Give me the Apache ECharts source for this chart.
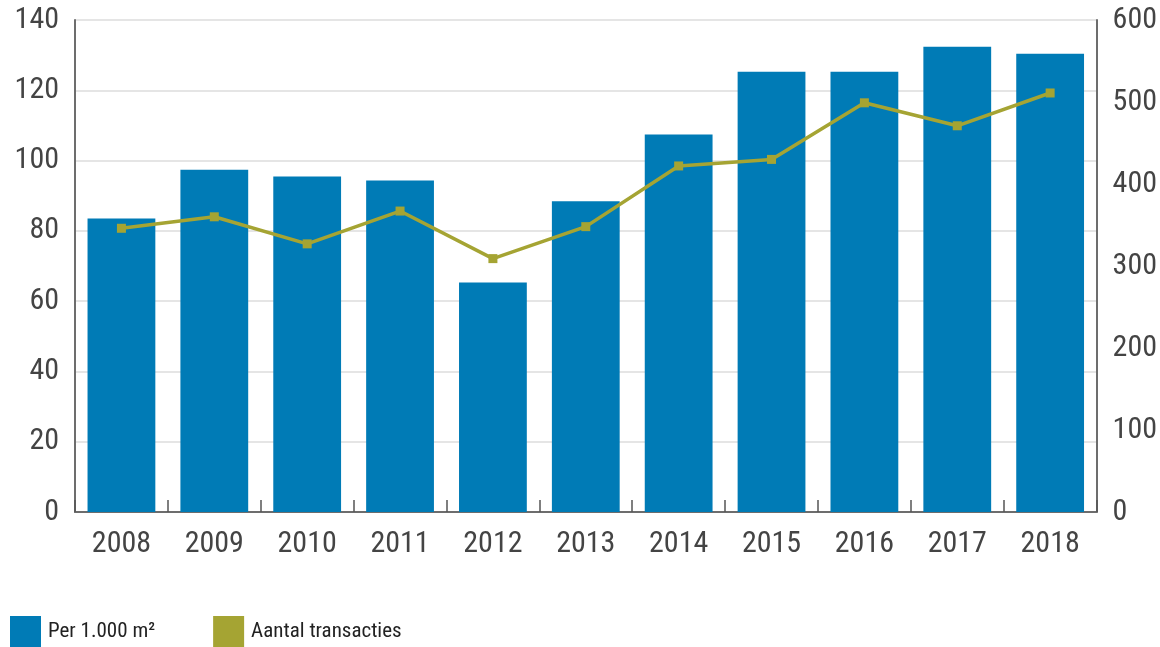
<!DOCTYPE html>
<html><head><meta charset="utf-8">
<script src="https://cdn.jsdelivr.net/npm/echarts@6/dist/echarts.min.js"></script>
<style>html,body{margin:0;padding:0;background:#fff}#c{width:1160px;height:647px}</style>
</head><body><div id="c"></div>
<script>
const categories = ['2008','2009','2010','2011','2012','2013','2014','2015','2016','2017','2018'];
const perM2 = [83.5, 97.4, 95.5, 94.3, 65.3, 88.4, 107.4, 125.3, 125.3, 132.4, 130.4];
const transacties = [346, 360, 327, 367, 309, 348, 422, 430, 499, 471, 511];
const leftTicks = {min: 0, max: 140, interval: 20};
const rightTicks = {min: 0, max: 600, interval: 100};

const FONT = '"Roboto Condensed", "Liberation Sans Narrow", Roboto, sans-serif';
const chart = echarts.init(document.getElementById('c'));
chart.setOption({
  animation: false,
  textStyle: {fontFamily: FONT},
  grid: {left: 75, right: 62, top: 20, bottom: 135},
  legend: {
    left: 10, top: 616, padding: 0, itemWidth: 31, itemHeight: 31, itemGap: 58, icon: 'rect',
    itemStyle: {borderWidth: 0},
    textStyle: {fontFamily: FONT, fontSize: 21, color: '#222', padding: [0, 0, 0, 2]},
    data: ['Per 1.000 m²', 'Aantal transacties']
  },
  xAxis: {
    type: 'category', data: categories,
    axisLine: {lineStyle: {color: '#6d6d6d', width: 2}},
    axisTick: {show: true, inside: true, length: 12, lineStyle: {color: '#555', width: 1.5}},
    axisLabel: {fontFamily: FONT, fontSize: 30, color: '#444', margin: 17}
  },
  yAxis: [
    {type: 'value', min: leftTicks.min, max: leftTicks.max, interval: leftTicks.interval,
     axisLine: {show: true, lineStyle: {color: '#6d6d6d', width: 2}},
     axisTick: {show: false},
     splitLine: {lineStyle: {color: '#dcdcdc', width: 1.5}},
     axisLabel: {fontFamily: FONT, fontSize: 30, color: '#444', margin: 16}},
    {type: 'value', min: rightTicks.min, max: rightTicks.max, interval: rightTicks.interval,
     axisLine: {show: true, lineStyle: {color: '#6d6d6d', width: 2}},
     axisTick: {show: false},
     splitLine: {show: false},
     axisLabel: {fontFamily: FONT, fontSize: 30, color: '#444', margin: 16}}
  ],
  series: [
    {name: 'Per 1.000 m²', type: 'bar', data: perM2, yAxisIndex: 0,
     barCategoryGap: '27%', itemStyle: {color: '#007bb6'}},
    {name: 'Aantal transacties', type: 'line', data: transacties, yAxisIndex: 1,
     symbol: 'rect', symbolSize: 9,
     lineStyle: {color: '#a5a433', width: 3.5},
     itemStyle: {color: '#a5a433'}}
  ]
});
</script></body></html>
